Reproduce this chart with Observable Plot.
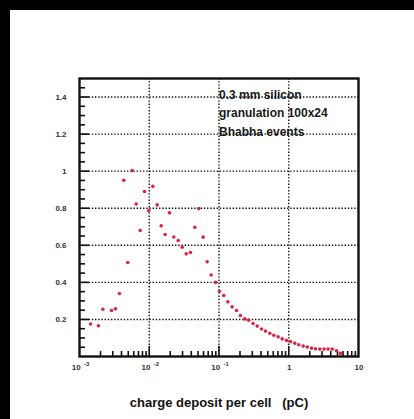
<!DOCTYPE html>
<html>
<head>
<meta charset="utf-8">
<script src="https://cdn.jsdelivr.net/npm/d3@7"></script>
<script src="https://cdn.jsdelivr.net/npm/@observablehq/plot@0.6"></script>
<style>
  html, body { margin: 0; padding: 0; background: #000; overflow: hidden; }
  body { padding: 10px 0 0 10px; width: 404px; height: 409px; }
  #chart svg { display: block; background: #fff; }
</style>
</head>
<body>
<div id="chart"></div>
<script>
// Charge deposit per cell (pC) and relative frequency
const chargeValues = [0.00144,0.00187,0.00216,0.00288,0.00328,0.00374,0.00431,0.00492,0.00569,0.0065,0.00742,0.00855,0.00986,0.01125,0.013,0.01483,0.0169,0.0195,0.0225,0.026,0.0297,0.0339,0.039,0.045,0.0513,0.0593,0.0676,0.0772,0.0891,0.1016,0.117,0.134,0.154,0.178,0.203,0.234,0.267,0.308,0.353,0.407,0.464,0.535,0.611,0.705,0.805,0.928,1.06,1.22,1.39,1.61,1.84,2.12,2.42,2.79,3.2,3.67,4.2,4.83,5.52];
const freqValues = [0.175,0.166,0.255,0.248,0.257,0.34,0.951,0.507,1.003,0.823,0.68,0.89,0.787,0.918,0.818,0.705,0.658,0.775,0.645,0.626,0.59,0.554,0.561,0.697,0.798,0.644,0.511,0.44,0.4,0.352,0.329,0.295,0.268,0.248,0.221,0.203,0.196,0.178,0.164,0.148,0.137,0.125,0.115,0.106,0.095,0.087,0.081,0.072,0.063,0.056,0.051,0.045,0.042,0.04,0.04,0.04,0.04,0.031,0.017];

// tick labels
const xPowerTicks = [0.001, 0.01, 0.1];
const xPowerBase = ["10", "10", "10"];
const xPowerExp = ["-3", "-2", "-1"];
const xPlainTicks = [1, 10];
const xPlainLabels = ["1", "10"];
const xGrid = [0.01, 0.1, 1];
const yLabels = [0.2, 0.4, 0.6, 0.8, 1, 1.2, 1.4];
const annotation = ["0.3 mm silicon", "granulation 100x24", "Bhabha events"];
const xTitle = "charge deposit per cell\u00a0\u00a0\u00a0(pC)";

const data = chargeValues.map((x, i) => ({x, y: freqValues[i]}));
const xMinor = [];
for (const d of [0.001, 0.01, 0.1, 1]) for (let k = 2; k <= 9; k++) xMinor.push(d * k);
const yMinor = d3.range(1, 30).map(i => i * 0.05).filter(v => Math.abs(v / 0.2 - Math.round(v / 0.2)) > 1e-6);

const W = 404, H = 409;
const mL = 69, mR = 56, mT = 68, mB = 63;
const pw = W - mL - mR, ph = H - mT - mB;
const font = "Liberation Sans, Arial, Helvetica, sans-serif";
const dotted = {stroke: "#111", strokeWidth: 1.4, strokeDasharray: "1.4,1.8"};
const lab = {fontWeight: "bold", fill: "#333", frameAnchor: "bottom"};
const tk = {stroke: "#111", strokeWidth: 1.6};

const chart = Plot.plot({
  width: W, height: H,
  marginLeft: mL, marginRight: mR, marginTop: mT, marginBottom: mB,
  style: {fontFamily: font, background: "#fff"},
  x: {type: "log", domain: [1e-3, 10], axis: null},
  y: {domain: [0, 1.5], axis: null},
  marks: [
    Plot.ruleX(xGrid, {x: d => d, ...dotted}),
    Plot.ruleY(yLabels, {y: d => d, ...dotted}),
    // x ticks (inside, bottom)
    Plot.tickX(xMinor, {x: d => d, ...tk, insetTop: ph - 5}),
    Plot.tickX(xGrid, {x: d => d, ...tk, insetTop: ph - 10}),
    // y ticks (inside, left)
    Plot.tickY(yMinor, {y: d => d, ...tk, insetRight: pw - 6}),
    Plot.tickY(yLabels, {y: d => d, ...tk, insetRight: pw - 10}),
    Plot.dot(data, {x: "x", y: "y", r: 1.8, fill: "#dc2546", stroke: "none"}),
    Plot.frame({stroke: "#111", strokeWidth: 2.4}),
    // y labels
    Plot.text(yLabels, {y: d => d, text: d => String(d), frameAnchor: "left", textAnchor: "end", dx: -13,
      fontSize: 8, fontWeight: "bold", fill: "#333"}),
    // x labels
    Plot.text(xPowerTicks, {x: d => d, text: (d, i) => xPowerBase[i], textAnchor: "end", dx: 1.2, dy: 13.6, fontSize: 8, ...lab}),
    Plot.text(xPowerTicks, {x: d => d, text: (d, i) => xPowerExp[i], textAnchor: "start", dx: 4.5, dy: 9.4, fontSize: 6, ...lab}),
    Plot.text(xPlainTicks, {x: d => d, text: (d, i) => xPlainLabels[i], textAnchor: "middle", dx: 0.5, dy: 13.6, fontSize: 8, ...lab}),
    // annotation
    Plot.text([annotation.join("\n")], {x: 0.1, frameAnchor: "top", text: d => d, textAnchor: "start", lineAnchor: "middle",
      dy: 33, lineHeight: 1.55, fontSize: 12, fontWeight: "bold", fill: "#1a1a1a"}),
    // x title
    Plot.text([xTitle], {frameAnchor: "bottom", text: d => d, dy: 46.6, lineAnchor: "middle",
      fontSize: 13, fontWeight: "bold", fill: "#111"})
  ]
});
document.getElementById("chart").appendChild(chart);
</script>
</body>
</html>
